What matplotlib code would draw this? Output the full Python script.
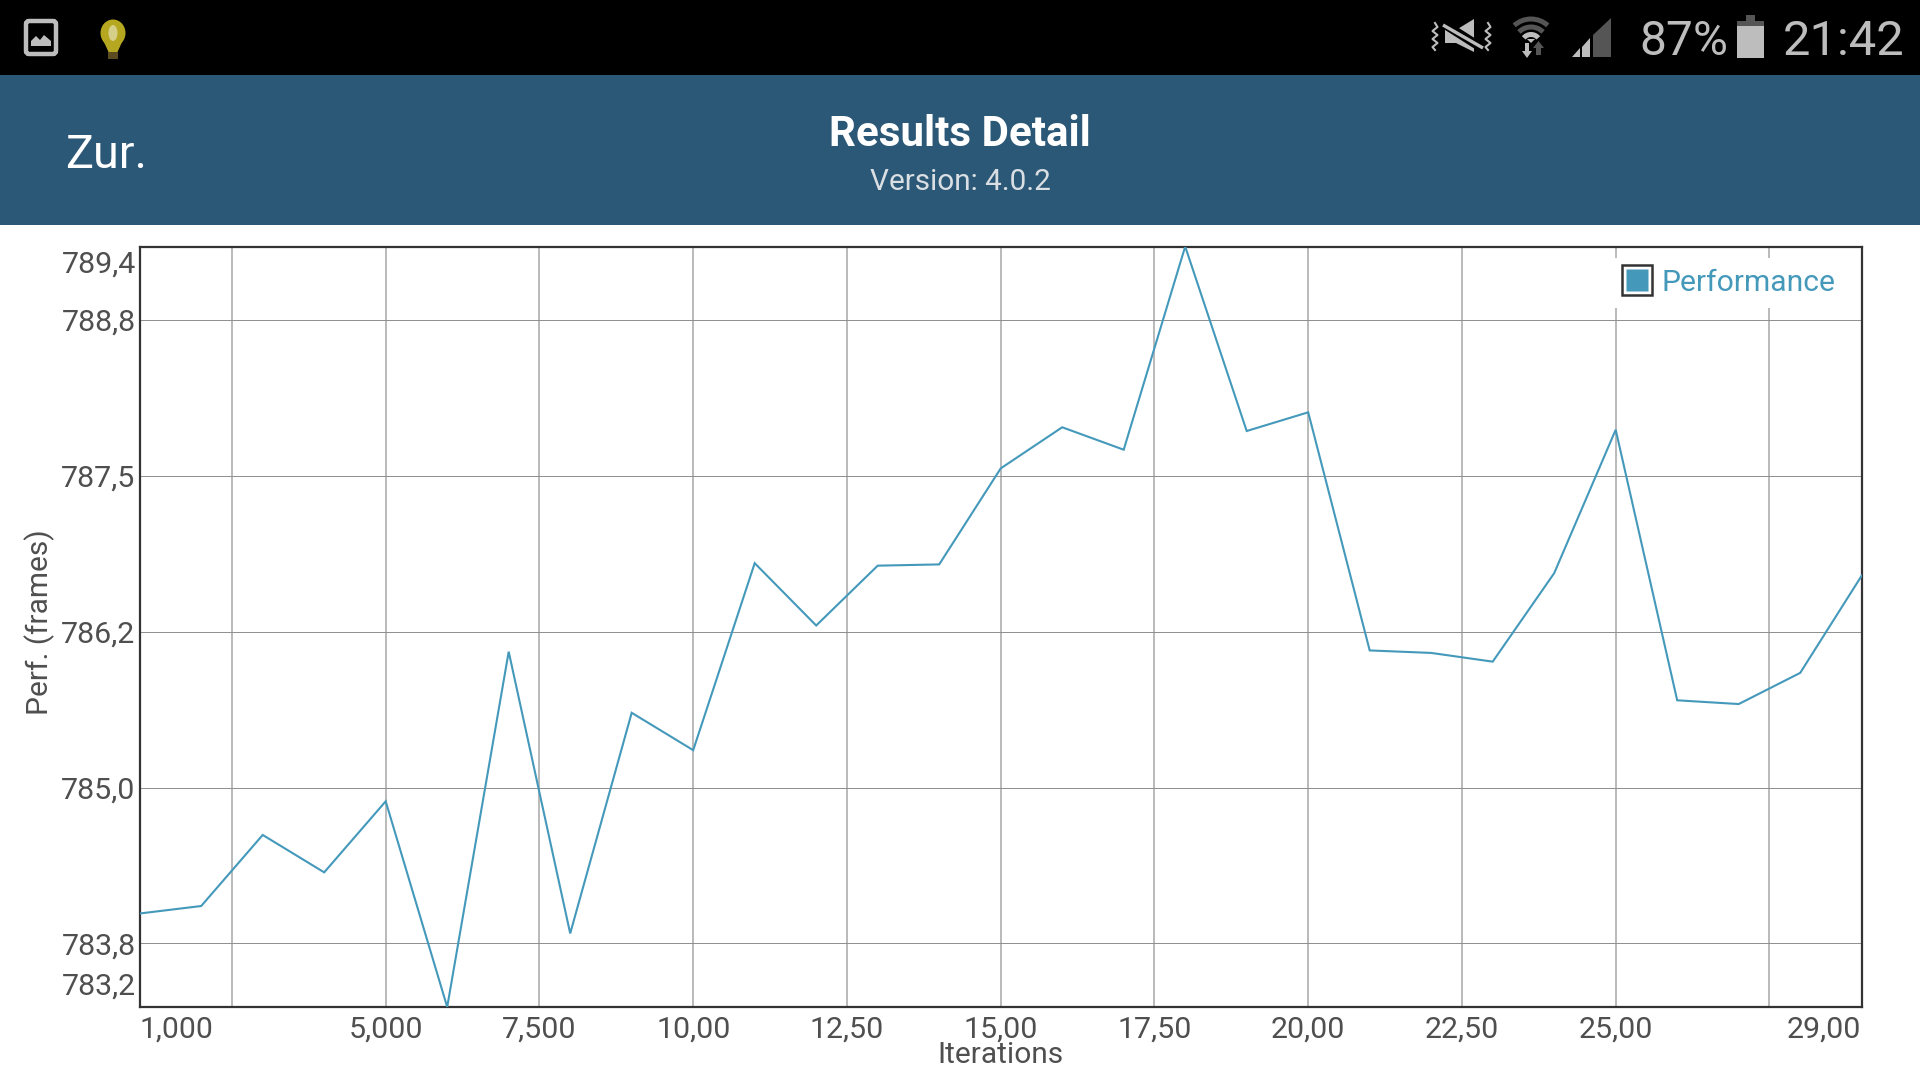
import matplotlib
matplotlib.use("Agg")
import matplotlib.pyplot as plt
from matplotlib.lines import Line2D
from matplotlib.legend_handler import HandlerTuple
from matplotlib.patches import Rectangle, FancyBboxPatch, Polygon, Arc, Ellipse

plt.rcParams['font.family'] = ['Roboto', 'DejaVu Sans']

iterations = list(range(1, 30))
performance = [784.02, 784.08, 784.65, 784.35, 784.92, 783.27, 786.12, 783.86, 785.63, 785.33,
               786.83, 786.33, 786.81, 786.82, 787.59, 787.92, 787.74, 789.37, 787.89, 788.04,
               786.13, 786.11, 786.04, 786.75, 787.90, 785.73, 785.70, 785.95, 786.73]
x_ticks = [2.5, 5, 7.5, 10, 12.5, 15, 17.5, 20, 22.5, 25, 27.5]
x_tick_labels = ['', '5,000', '7,500', '10,00', '12,50', '15,00', '17,50', '20,00', '22,50', '25,00', '']
y_ticks = [783.78, 785.03, 786.28, 787.53, 788.78]
y_tick_labels = ['783,8', '785,0', '786,2', '787,5', '788,8']
y_min, y_max = 783.27, 789.37
x_min, x_max = 1, 29

LINE = '#4499BB'
TEXT = '#4f4f4f'
HEADER = '#2C5877'
ICON = '#BDBDBD'
ICON_DIM = '#555555'
W, H = 1920, 1080
FS = 21.9

fig = plt.figure(figsize=(19.2, 10.8), dpi=100, facecolor='white')

# Overlay in pixel coordinates for the phone interface
ui = fig.add_axes([0, 0, 1, 1])
ui.set_xlim(0, W)
ui.set_ylim(H, 0)
ui.axis('off')
ui.add_patch(Rectangle((0, 0), W, 75, fc='black', ec='none'))
ui.add_patch(Rectangle((0, 75), W, 150, fc=HEADER, ec='none'))

# picture icon
ui.add_patch(FancyBboxPatch((26, 21), 30, 33, boxstyle='round,pad=0,rounding_size=3', fc='none', ec=ICON, lw=3.2))
ui.add_patch(Polygon([(31, 46), (31, 41), (36, 36), (40, 40), (44, 35), (51, 41), (51, 46)], fc=ICON, ec='none'))
# light bulb
ui.add_patch(Ellipse((113, 33), 25, 27, fc='#B5A820', ec='none'))
ui.add_patch(Polygon([(103, 40), (123, 40), (117, 53), (109, 53)], fc='#B5A820', ec='none'))
ui.add_patch(Ellipse((113, 33), 9, 16, fc='#D6CF8A', ec='none'))
ui.add_patch(Rectangle((108, 52), 10, 7, fc='#5a4c20', ec='none'))

# muted / vibrate icon
ui.add_patch(Polygon([(1445, 30), (1456, 30), (1474, 19), (1474, 52), (1456, 43), (1445, 43)], fc=ICON, ec='none'))
ui.plot([1441, 1485], [22, 50], color='black', lw=6.5, solid_capstyle='butt')
ui.plot([1443, 1483], [25, 48], color=ICON, lw=2.4, solid_capstyle='butt')
for x0 in (1435, 1488):
    ui.plot([x0, x0 + 2.5, x0 - 2.5, x0 + 2.5, x0 - 2.5, x0 + 2.5, x0 - 2.5, x0],
            [23, 27, 31, 35, 39, 43, 47, 50], color=ICON, lw=1.5)
# wifi icon
ui.add_patch(Arc((1531, 44), 50, 50, theta1=228, theta2=312, color=ICON_DIM, lw=3.6))
ui.add_patch(Arc((1531, 44), 34, 34, theta1=225, theta2=315, color=ICON_DIM, lw=3.6))
ui.add_patch(Arc((1531, 44), 19, 19, theta1=220, theta2=320, color=ICON, lw=3.6))
ui.add_patch(Polygon([(1527, 39), (1535, 39), (1531, 43)], fc=ICON, ec='none'))
ui.add_patch(Polygon([(1525, 43), (1529, 43), (1529, 51), (1532, 51), (1527, 58), (1522, 51), (1525, 51)], fc=ICON, ec='none'))
ui.add_patch(Polygon([(1536, 55), (1541, 55), (1541, 48), (1544, 48), (1538.5, 41), (1533, 48), (1536, 48)], fc=ICON_DIM, ec='none'))
# signal icon
ui.add_patch(Polygon([(1572, 57), (1580, 48), (1580, 57)], fc=ICON, ec='none'))
ui.add_patch(Polygon([(1582, 57), (1582, 47), (1590, 38), (1590, 57)], fc=ICON, ec='none'))
ui.add_patch(Polygon([(1593, 57), (1593, 35), (1611, 18), (1611, 57)], fc=ICON_DIM, ec='none'))
# battery icon
ui.add_patch(Rectangle((1746, 15), 9, 6, fc=ICON_DIM, ec='none'))
ui.add_patch(Rectangle((1737, 21), 27, 5, fc=ICON_DIM, ec='none'))
ui.add_patch(Rectangle((1737, 26), 27, 32, fc=ICON, ec='none'))

ui.text(1683.5, 42, '87%', color=ICON, fontsize=34.5, ha='center', va='center')
ui.text(1844, 42, '21:42', color=ICON, fontsize=35.2, ha='center', va='center')
ui.text(65, 155.5, 'Zur.', color='white', fontsize=33.7, ha='left', va='center')
ui.text(960, 134.5, 'Results Detail', color='white', fontsize=30.3, fontweight='bold', ha='center', va='center')
ui.text(960, 182.5, 'Version: 4.0.2', color='#DADFE3', fontsize=21.4, ha='center', va='center')

# Chart
ax = fig.add_axes([139.7 / W, 1 - 1007 / H, (1861.7 - 139.7) / W, (1007 - 246.5) / H])
ax.patch.set_alpha(0)
ax.set_xlim(x_min, x_max)
ax.set_ylim(y_min, y_max)
ax.set_xticks(x_ticks)
ax.set_xticklabels(x_tick_labels)
ax.set_yticks(y_ticks)
ax.set_yticklabels(y_tick_labels)
ax.tick_params(axis='both', length=0, labelsize=FS, labelcolor=TEXT)
ax.tick_params(axis='x', pad=6)
ax.tick_params(axis='y', pad=3)
ax.grid(axis='x', color='#b4b4b4', lw=1.3)
ax.grid(axis='y', color='#8e8e8e', lw=0.7)
ax.set_axisbelow(True)
for s in ax.spines.values():
    s.set_linewidth(1.6)
    s.set_color('#333333')
ax.plot(iterations, performance, color=LINE, lw=1.5, solid_joinstyle='miter', label='Performance', zorder=3)

# Edge tick labels and axis titles
ui.text(136, 264.5, '789,4', color=TEXT, fontsize=FS, ha='right', va='center')
ui.text(136, 986.5, '783,2', color=TEXT, fontsize=FS, ha='right', va='center')
ui.text(139, 1029.5, '1,000', color=TEXT, fontsize=21.7, ha='left', va='center')
ui.text(1861, 1029.5, '29,00', color=TEXT, fontsize=FS, ha='right', va='center')
ui.text(39.5, 622, 'Perf. (frames)', color=TEXT, fontsize=21.5, rotation=90, ha='center', va='center')
ui.text(1000, 1055, 'Iterations', color=TEXT, fontsize=21.5, ha='center', va='center')

outer = Line2D([], [], marker='s', ls='none', ms=22, mfc='white', mec='#333333', mew=1.8)
inner = Line2D([], [], marker='s', ls='none', ms=16, mfc=LINE, mec='none')
leg = ax.legend([(outer, inner)], ['Performance'], handler_map={tuple: HandlerTuple(ndivide=1, pad=0)},
                loc='upper right', bbox_to_anchor=(1846 / W, 1 - 258 / H), bbox_transform=fig.transFigure,
                frameon=True, facecolor='white', edgecolor='none', framealpha=1, fancybox=False,
                fontsize=21.65, labelcolor=LINE, borderpad=0.36, borderaxespad=0,
                handlelength=1.2, handletextpad=0.2)

fig.savefig('out.png', dpi=100, facecolor='white')
